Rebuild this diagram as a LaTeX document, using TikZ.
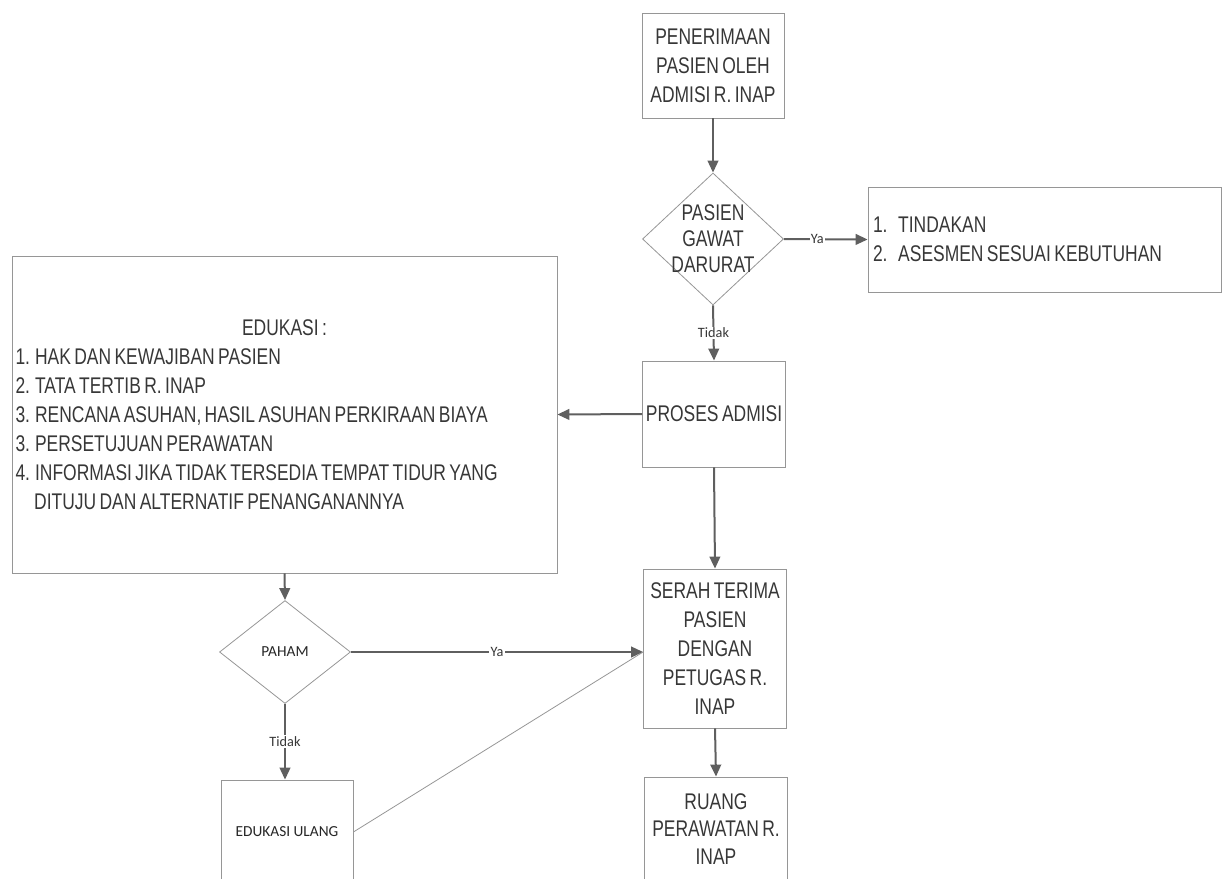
\documentclass[tikz,border=0pt]{standalone}
\usepackage{fontspec}
\setmainfont{Liberation Sans}
\newfontfamily\narrowfont{Liberation Sans}[FakeStretch=0.77,WordSpace=0.7]
\newfontfamily\smallfont{Carlito}
\usetikzlibrary{arrows.meta,shapes.geometric}

\definecolor{linegray}{RGB}{95,95,95}
\definecolor{boxgray}{RGB}{150,150,150}
\definecolor{textgray}{RGB}{55,55,55}

\tikzset{every picture/.style={line width=0.6pt}}
\tikzset{
  procbox/.style={draw=boxgray, rectangle, inner sep=0pt, text=textgray, align=center,
    font=\narrowfont\fontsize{17}{21.75}\selectfont},
  decbox/.style={draw=boxgray, diamond, inner sep=0pt},
  smallbox/.style={procbox, text=black!85, font=\smallfont\fontsize{11.5}{13}\selectfont},
  flow/.style={draw=linegray, line width=1.5pt, -{Triangle[length=9pt,width=8pt]}},
  thinflow/.style={draw=boxgray, line width=0.6pt},
  flowlbl/.style={fill=white, inner sep=1pt, text=textgray, font=\smallfont\fontsize{10.7}{12}\selectfont},
}

\begin{document}
\begin{tikzpicture}[x=0.75pt,y=0.75pt,yscale=-1,xscale=1]
\useasboundingbox (0,0) rectangle (1224,878);

% boxes of the main column
\node[procbox, minimum width=106.5pt, minimum height=78.75pt] (terima) at (713,65.5) {PENERIMAAN\\PASIEN OLEH\\ADMISI R. INAP};
\node[decbox, minimum width=105.75pt, minimum height=99pt] (gawat) at (713,239) {};
\node[procbox, draw=none, font=\narrowfont\fontsize{17}{19.5}\selectfont] (gawattxt) at (gawat.center) {PASIEN\\GAWAT\\DARURAT};
\node[procbox, minimum width=264.75pt, minimum height=78.75pt, text width=257.25pt, align=flush left] (tindakan) at (1044.5,239.5) {1.\hspace{8pt}TINDAKAN\\2.\hspace{8pt}ASESMEN SESUAI KEBUTUHAN};
\node[procbox, minimum width=107.25pt, minimum height=79.5pt] (proses) at (714,414) {PROSES ADMISI};
\node[procbox, minimum width=107.25pt, minimum height=119.25pt] (serah) at (715,648.5) {SERAH TERIMA\\PASIEN\\DENGAN\\PETUGAS R.\\INAP};
\node[procbox, minimum width=107.25pt, minimum height=78pt, font=\narrowfont\fontsize{17}{20.6}\selectfont] (ruang) at (716,829) {RUANG\\PERAWATAN R.\\INAP};

% edukasi branch
\node[procbox, minimum width=408.75pt, minimum height=237.75pt, text width=403.5pt, align=flush left] (edukasi) at (284.5,414.5) {\hbox to \hsize{\hfil EDUKASI :\hfil}\\
1. HAK DAN KEWAJIBAN PASIEN\\
2. TATA TERTIB R. INAP\\
3. RENCANA ASUHAN, HASIL ASUHAN PERKIRAAN BIAYA\\
3. PERSETUJUAN PERAWATAN\\
4. INFORMASI JIKA TIDAK TERSEDIA TEMPAT TIDUR YANG\\
\hspace*{14pt}DITUJU DAN ALTERNATIF PENANGANANNYA};
\node[decbox, minimum width=98.25pt, minimum height=77.25pt] (paham) at (285,652) {};
\node[smallbox, draw=none] (pahamtxt) at (paham.center) {PAHAM};
\node[smallbox, minimum width=99pt, minimum height=78pt] (eduulang) at (287,832) {EDUKASI ULANG};

% connectors
\draw[flow] (terima.south) -- (gawat.north);
\draw[flow] (gawat.east) -- node[flowlbl, pos=0.4] (ya1) {Ya} (tindakan.west);
\draw[flow] (gawat.south) -- node[flowlbl] (tidak1) {Tidak} (proses.north);
\draw[flow] (proses.west) -- (edukasi.east);
\draw[flow] (proses.south) -- (serah.north);
\draw[flow] (serah.south) -- (ruang.north);
\draw[flow] (edukasi.south) -- (paham.north);
\draw[flow] (paham.east) -- node[flowlbl] (ya2) {Ya} (paham.east -| serah.west);
\draw[flow] (paham.south) -- node[flowlbl] (tidak2) {Tidak} (paham.south |- eduulang.north);
\draw[thinflow] (eduulang.east) -- (paham.east -| serah.west);

\end{tikzpicture}
\end{document}
